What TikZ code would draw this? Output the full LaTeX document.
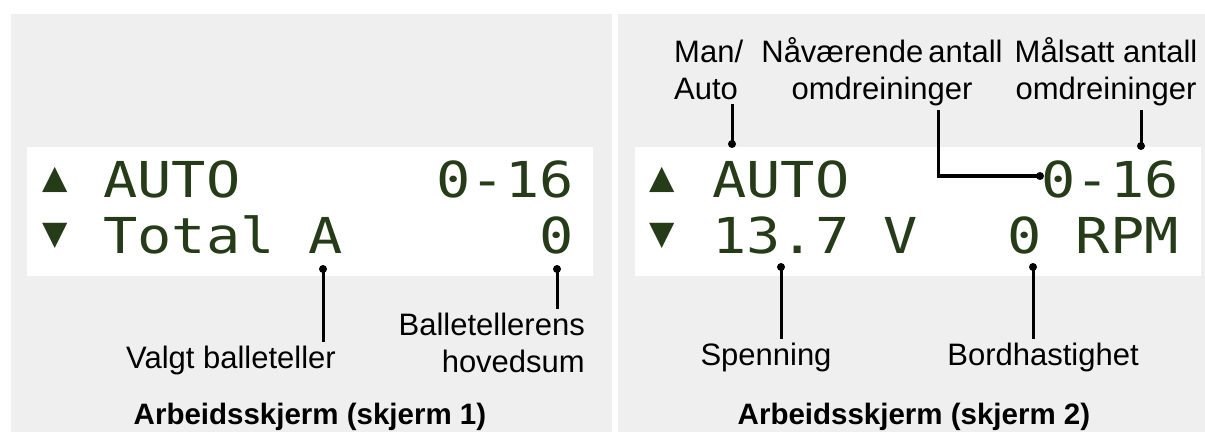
\documentclass[tikz,border=0pt]{standalone}
\usepackage{fontspec}
\setmainfont{Liberation Sans}
\newfontfamily\lcdfont[FakeStretch=1.15]{DejaVu Sans Mono}
\newfontfamily\symfont{DejaVu Sans}
\usetikzlibrary{calc,positioning}
\definecolor{panelgray}{RGB}{239,239,239}
\definecolor{lcdgreen}{RGB}{38,60,24}
\tikzset{
  lcd/.style={font=\lcdfont\fontsize{49.5}{50}\selectfont,text=lcdgreen,inner sep=0pt},
  arr/.style={font=\symfont\fontsize{33}{33}\selectfont,text=lcdgreen,inner sep=0pt},
  lbl/.style={font=\fontsize{31}{37}\selectfont,inner sep=3pt},
  ttl/.style={font=\bfseries\fontsize{29.5}{30}\selectfont,inner sep=0pt},
  leader/.style={line width=3pt},
}

\begin{document}
\begin{tikzpicture}[x=1pt,y=-1pt]
\useasboundingbox (0,0) rectangle (1205,433);
% panels and screens
\fill[panelgray] (11,14) rectangle (612,432);
\fill[panelgray] (618,14) rectangle (1205,432);
\fill[white] (27,147) rectangle (593,276);
\fill[white] (635,147) rectangle (1201,276);

% screen 1
\node[arr] (upA) at (55,180) {▲};
\node[arr] (dnA) at (55,236) {▼};
\node[lcd,anchor=base west] (autoA) at (103,197) {AUTO};
\node[lcd,anchor=base east] (rangeA) at (574,197) {0-16};
\node[lcd,anchor=base west] (totalA) at (103,253) {Total A};
\node[lcd,anchor=base east] (sumA) at (574,253) {0};

\node[lbl,anchor=base] (valgt) at (231,368) {Valgt balleteller};
\node[lbl,anchor=base east,align=right] (ballsum) at (588,372) {Balletellerens\\hovedsum};
\node[ttl,anchor=base] (title1) at (310,424) {Arbeidsskjerm (skjerm 1)};

\coordinate (dotA) at (323,269);
\coordinate (dotSum) at (557,269);
\draw[leader] (dotA) -- (dotA |- valgt.north);
\draw[leader] (dotSum) -- (dotSum |- ballsum.north);

% screen 2
\node[arr] (upB) at (662,180) {▲};
\node[arr] (dnB) at (662,236) {▼};
\node[lcd,anchor=base west] (autoB) at (712,197) {AUTO};
\node[lcd,anchor=base east] (rangeB) at (1179,197) {0-16};
\node[lcd,anchor=base west] (voltB) at (712,253) {13.7 V};
\node[lcd,anchor=base east] (rpmB) at (1179,253) {0 RPM};

\node[lbl,anchor=base west,align=left] (manauto) at (671,100) {Man/\\Auto};
\node[lbl,anchor=base,align=center] (naa) at (882,100) {Nåværende\,antall\\omdreininger};
\node[lbl,anchor=base,align=center] (maal) at (1106,100) {Målsatt antall\\omdreininger};
\node[lbl,anchor=base] (spenn) at (766,365) {Spenning};
\node[lbl,anchor=base] (bord) at (1043,365) {Bordhastighet};
\node[ttl,anchor=base] (title2) at (914,424) {Arbeidsskjerm (skjerm 2)};

\coordinate (dotMan) at (732,144);
\coordinate (bendNaa) at (938,176);
\coordinate (dotNaa) at (1040,176);
\coordinate (dotMaal) at (1141,146);
\coordinate (dotSpenn) at (781,267);
\coordinate (dotBord) at (1033,267);
\draw[leader] (dotMan) -- (dotMan |- manauto.south);
\draw[leader] (dotNaa) -- (bendNaa) -- (bendNaa |- naa.south);
\draw[leader] (dotMaal) -- (dotMaal |- maal.south);
\draw[leader] (dotSpenn) -- (dotSpenn |- spenn.north);
\draw[leader] (dotBord) -- (dotBord |- bord.north);

\foreach \d in {dotA,dotSum,dotMan,dotNaa,dotMaal,dotSpenn,dotBord}
  \fill (\d) circle (4);
\end{tikzpicture}
\end{document}
